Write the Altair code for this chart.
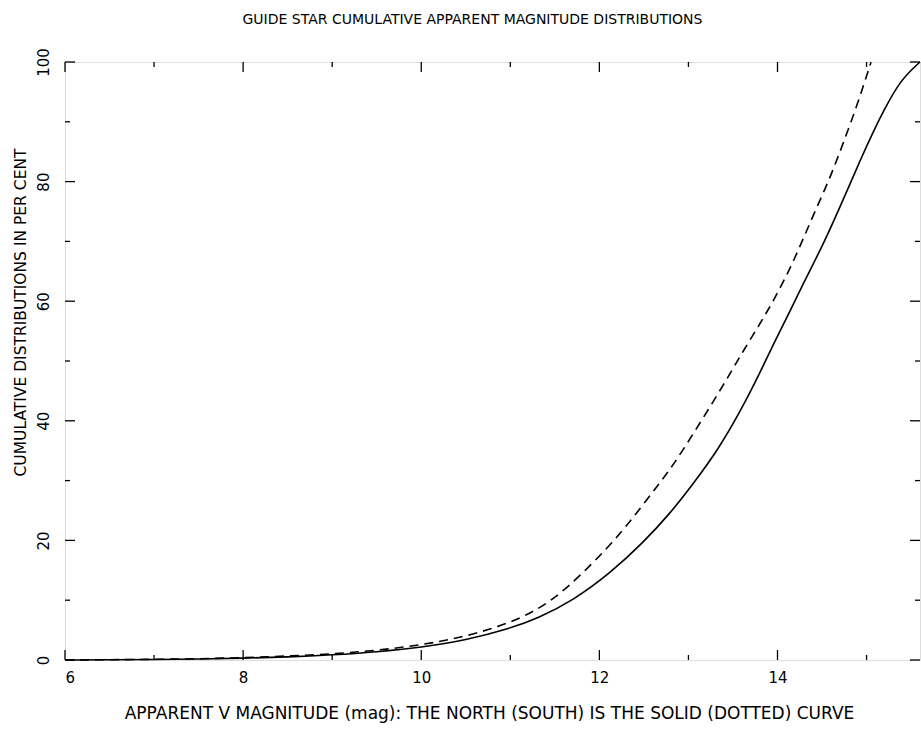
import altair as alt
import pandas as pd

# North (solid) cumulative distribution
north_mag = [6.0, 6.5, 7.0, 7.5, 8.0, 8.5, 9.0, 9.5, 10.0, 10.5, 11.0, 11.3, 11.71, 12.12, 12.49, 12.8, 13.06, 13.33, 13.58, 13.77, 13.96, 14.11, 14.29, 14.52, 14.67, 14.82, 14.93, 15.07, 15.19, 15.38, 15.6]
north_pct = [0.0, 0.03, 0.08, 0.15, 0.3, 0.5, 0.85, 1.35, 2.1, 3.3, 5.3, 6.9, 10.0, 14.5, 19.6, 24.6, 29.6, 35.1, 41.5, 47.0, 53.0, 57.4, 63.0, 69.7, 74.7, 79.8, 83.6, 88.2, 91.8, 97.0, 100.0]

# South (dashed) cumulative distribution
south_mag = [6.0, 7.0, 7.5, 8.0, 8.5, 9.0, 9.5, 10.0, 10.5, 11.0, 11.3, 11.56, 11.93, 12.24, 12.46, 12.69, 12.87, 13.06, 13.25, 13.44, 13.62, 13.81, 13.96, 14.15, 14.29, 14.45, 14.6, 14.74, 14.9, 15.05]
south_pct = [0.0, 0.1, 0.2, 0.4, 0.65, 1.0, 1.6, 2.5, 3.9, 6.2, 8.4, 11.0, 16.2, 21.2, 25.4, 29.8, 33.5, 38.0, 42.5, 47.2, 51.8, 56.4, 60.2, 65.7, 70.5, 76.0, 81.0, 86.5, 93.0, 100.0]

x_major = [6, 8, 10, 12, 14]
x_minor = [7, 9, 11, 13, 15]
y_major = [0, 20, 40, 60, 80, 100]
y_minor = [10, 30, 50, 70, 90]

FONT = "DejaVu Sans"
W, H = 855, 598

north = pd.DataFrame({"mag": north_mag, "pct": north_pct})
south = pd.DataFrame({"mag": south_mag, "pct": south_pct})

xs = alt.Scale(domain=[6, 15.6], nice=False, zero=False)
ys = alt.Scale(domain=[0, 100], nice=False)

x_axis = alt.Axis(values=x_major, format="d", ticks=False, domain=False, grid=False,
                  labelFont=FONT, labelFontSize=15, labelColor="black", labelPadding=10,
                  title="APPARENT V MAGNITUDE (mag): THE NORTH (SOUTH) IS THE SOLID (DOTTED) CURVE",
                  titleFont=FONT, titleFontSize=17, titleFontWeight="normal", titleColor="black",
                  titleY=45, titleX=424)
y_axis = alt.Axis(values=y_major, format="d", ticks=False, domain=False, grid=False,
                  labelFont=FONT, labelFontSize=15, labelColor="black", labelAngle=270,
                  labelAlign="center", labelBaseline="bottom", labelPadding=14,
                  title="CUMULATIVE DISTRIBUTIONS IN PER CENT",
                  titleFont=FONT, titleFontSize=15.5, titleFontWeight="normal", titleColor="black",
                  titleAngle=270, titleX=-45, titleY=250, titleAlign="center", titleBaseline="middle")

solid = alt.Chart(north).mark_line(color="black", strokeWidth=1.6, interpolate="basis").encode(
    x=alt.X("mag:Q", scale=xs, axis=x_axis),
    y=alt.Y("pct:Q", scale=ys, axis=y_axis),
)
dashed = alt.Chart(south).mark_line(color="black", strokeWidth=1.6, strokeDash=[9, 6],
                                    interpolate="basis").encode(
    x=alt.X("mag:Q", scale=xs),
    y=alt.Y("pct:Q", scale=ys),
)

def xticks(vals, length):
    df = pd.DataFrame({"v": vals})
    b = alt.Chart(df).mark_rule(color="black", strokeWidth=1.3).encode(
        x=alt.X("v:Q", scale=xs), y=alt.value(H), y2=alt.value(H - length))
    t = alt.Chart(df).mark_rule(color="black", strokeWidth=1.3).encode(
        x=alt.X("v:Q", scale=xs), y=alt.value(0), y2=alt.value(length))
    return [b, t]

def yticks(vals, length):
    df = pd.DataFrame({"v": vals})
    l = alt.Chart(df).mark_rule(color="black", strokeWidth=1.3).encode(
        y=alt.Y("v:Q", scale=ys), x=alt.value(0), x2=alt.value(length))
    r = alt.Chart(df).mark_rule(color="black", strokeWidth=1.3).encode(
        y=alt.Y("v:Q", scale=ys), x=alt.value(W), x2=alt.value(W - length))
    return [l, r]

layers = [solid, dashed] + xticks(x_major, 10) + xticks(x_minor, 5) + yticks(y_major, 10) + yticks(y_minor, 5)

chart = alt.layer(*layers).properties(
    width=W, height=H,
    title=alt.TitleParams("GUIDE STAR CUMULATIVE APPARENT MAGNITUDE DISTRIBUTIONS",
                          font=FONT, fontSize=14, fontWeight="normal", color="black",
                          offset=21, dx=-20),
    autosize=alt.AutoSizeParams(type="none"),
    padding={"left": 65, "top": 62, "right": 1, "bottom": 69},
).configure_view(stroke="black", strokeWidth=1.6).configure(background="white")

chart.save("out.html", embed_options={"renderer": "svg", "actions": False})
